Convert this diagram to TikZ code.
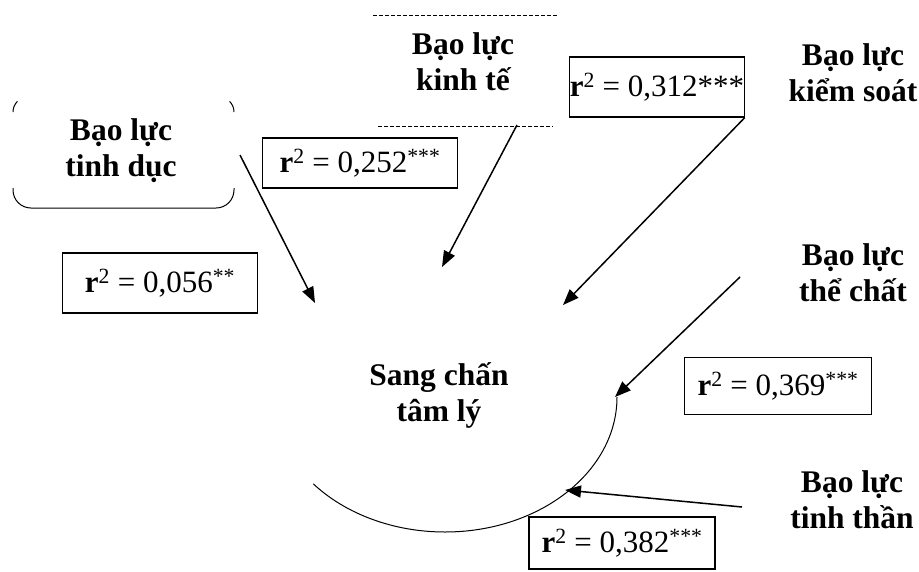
\documentclass[tikz,border=0pt]{standalone}
\usepackage{fontspec}
\setmainfont{Liberation Serif}
\usetikzlibrary{arrows.meta}
\newcommand\rsqval[2]{{\bfseries r}\textsuperscript{2} = 0,#1\textsuperscript{#2}}
\begin{document}
\begin{tikzpicture}[x=1pt,y=1pt,
  lbl/.style={font=\fontsize{31.5}{36}\selectfont\bfseries, align=center, inner sep=0pt},
  rbox/.style={draw, line width=1.2pt, font=\fontsize{31}{36}\selectfont, inner sep=0pt},
  conn/.style={line width=1.5pt, -{Triangle[length=16pt,width=12pt]}},
  frag/.style={line width=1pt},
  dotline/.style={line width=0.9pt, dash pattern=on 4pt off 2pt}]
\useasboundingbox (0,0) rectangle (919,-571);

% labels
\node[lbl] (td) at (121,-151) {Bạo lực\\tinh dục};
\node[lbl] (kt) at (463,-62) {Bạo lực\\kinh tế};
\node[lbl] (ks) at (853,-73) {Bạo lực\\kiểm soát};
\node[lbl] (tc) at (853,-273) {Bạo lực\\thể chất};
\node[lbl] (tt) at (852,-500) {Bạo lực\\tinh thần};
\node[lbl] (sc) at (439,-395) {Sang chấn\\tâm lý};

% r^2 boxes
\node[rbox, minimum width=195pt, minimum height=60pt] (b056) at (160,-283) {\rsqval{056}{**}};
\node[rbox, minimum width=195pt, minimum height=50pt] (b252) at (360,-163) {\rsqval{252}{***}};
\node[rbox, minimum width=169pt, minimum height=60pt] (b312) at (657,-87) {{\bfseries r}\textsuperscript{2} = 0,312***};
\node[rbox, minimum width=187pt, minimum height=57pt] (b369) at (778,-386) {\rsqval{369}{***}};
\node[rbox, minimum width=186pt, minimum height=52pt] (b382) at (622,-543) {\rsqval{382}{***}};

% fragments of the sexual-violence box
\draw[frag, rounded corners=18pt] (13,-188) -- (13,-208) -- (234,-208) -- (234,-188);
\draw[frag] (13,-112) arc[start angle=180, end angle=135, radius=15pt];
\draw[frag] (234,-112) arc[start angle=0, end angle=45, radius=15pt];

% fragments of the economic-violence box
\draw[dotline] (373,-15) -- (557,-15);
\draw[dotline] (378,-126) -- (553,-126);

% visible arc of the central ellipse
\draw[line width=1pt] (617,-397) arc[start angle=0, end angle=-140, x radius=172pt, y radius=135pt];

% connector ends
\coordinate (tdS) at (240,-155);
\coordinate (tdE) at (315,-303);
\coordinate (ktS) at (517,-125);
\coordinate (ktE) at (442,-267);
\coordinate (ksE) at (563,-305);
\coordinate (tcS) at (740,-277);
\coordinate (tcE) at (615,-397);
\coordinate (ttS) at (742,-507);
\coordinate (ttE) at (565,-490);

\draw[conn] (tdS) -- (tdE);
\draw[conn] (ktS) -- (ktE);
\draw[conn] (b312.south east) -- (ksE);
\draw[conn] (tcS) -- (tcE);
\draw[conn] (ttS) -- (ttE);
\end{tikzpicture}
\end{document}
